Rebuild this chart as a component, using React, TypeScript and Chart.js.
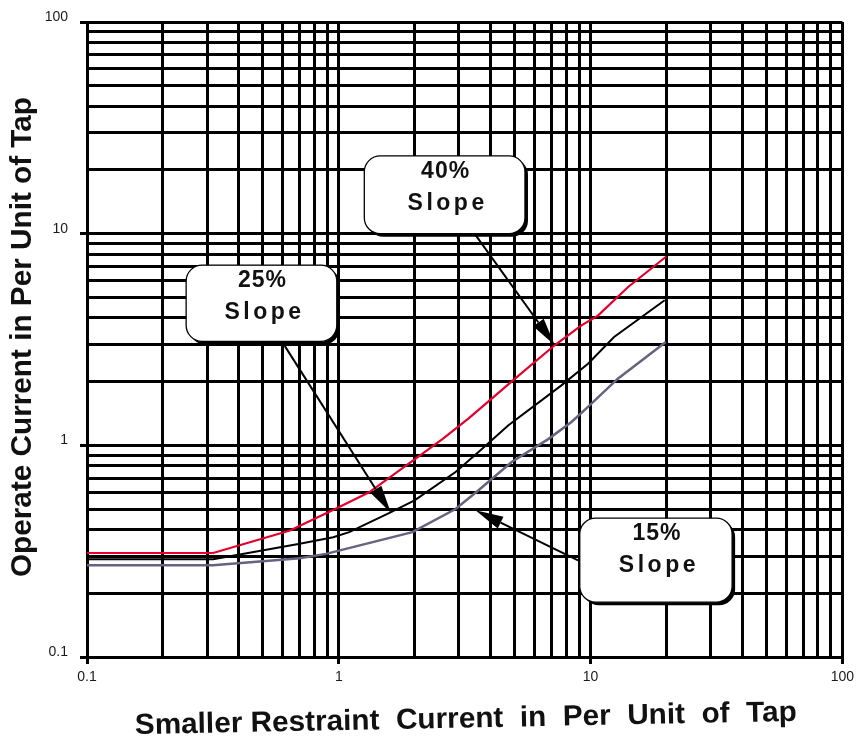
import React, { useEffect, useRef } from 'react';
import { Chart, registerables } from 'chart.js';

Chart.register(...registerables);

// ---- axis ticks ----
const X_MAJOR = [0.1, 1, 10, 100];
const X_TICK_LABELS = ['0.1', '1', '10', '100'];
const Y_MAJOR = [0.1, 1, 10, 100];
const Y_TICK_LABELS = ['0.1', '1', '10', '100'];
const MINOR_STEPS = [2, 3, 4, 5, 6, 7, 8, 9];

// ---- series (restraint current, operate current) ----
const SLOPE40_X = [0.1, 0.317, 0.64, 1.0, 1.32, 2.02, 2.58, 3.28, 5.0, 7.2, 9.2, 10.7, 14.1, 20];
const SLOPE40_Y = [0.31, 0.31, 0.396, 0.51, 0.6, 0.865, 1.07, 1.34, 2.06, 2.97, 3.69, 4.1, 5.6, 7.8];

const SLOPE25_X = [0.1, 0.317, 0.7, 0.95, 1.1, 1.59, 2.0, 2.91, 3.59, 4.72, 7.66, 9.77, 12.4, 19.7];
const SLOPE25_Y = [0.29, 0.29, 0.343, 0.368, 0.389, 0.48, 0.55, 0.748, 0.929, 1.244, 1.92, 2.43, 3.25, 4.85];

const SLOPE15_X = [0.1, 0.317, 0.7, 0.89, 1.96, 2.91, 3.59, 4.86, 6.79, 8.4, 9.77, 12.8, 19.9];
const SLOPE15_Y = [0.271, 0.271, 0.293, 0.307, 0.389, 0.5, 0.613, 0.834, 1.07, 1.29, 1.52, 2.06, 3.08];

const X_TITLE = 'Smaller Restraint  Current  in  Per  Unit  of  Tap';
const Y_TITLE = 'Operate Current in Per Unit of Tap';

// callouts: box corners (x1, y1, x2, y2) and arrow from/to in data units
const CALLOUT_LINES = [
  ['40%', 'Slope'],
  ['25%', 'Slope'],
  ['15%', 'Slope'],
];
const CALLOUT_BOXES = [
  [1.263, 23.3, 5.49, 10.0],
  [0.2476, 7.1, 0.982, 3.1],
  [9.06, 0.453, 36.5, 0.1816],
];
const ARROW_FROM = [
  [3.49, 9.87],
  [0.61, 2.95],
  [8.92, 0.286],
];
const ARROW_TO = [
  [7.21, 2.97],
  [1.61, 0.48],
  [3.49, 0.493],
];

const FONT = "'Liberation Sans', Arial, Helvetica, sans-serif";
const GRID_W = 3;

const toPoints = (xs: number[], ys: number[]) => xs.map((x, i) => ({ x, y: ys[i] }));

const buildTicks = (majors: number[]) => {
  const out: number[] = [];
  majors.forEach((m, i) => {
    out.push(m);
    if (i < majors.length - 1) MINOR_STEPS.forEach((s) => out.push(m * s));
  });
  return out;
};

const majorIndex = (majors: number[], v: number) =>
  majors.findIndex((m) => Math.abs(m - v) / m < 1e-6);

function roundRect(ctx: CanvasRenderingContext2D, x: number, y: number, w: number, h: number, r: number) {
  ctx.beginPath();
  ctx.moveTo(x + r, y);
  ctx.lineTo(x + w - r, y);
  ctx.arcTo(x + w, y, x + w, y + r, r);
  ctx.lineTo(x + w, y + h - r);
  ctx.arcTo(x + w, y + h, x + w - r, y + h, r);
  ctx.lineTo(x + r, y + h);
  ctx.arcTo(x, y + h, x, y + h - r, r);
  ctx.lineTo(x, y + r);
  ctx.arcTo(x, y, x + r, y, r);
  ctx.closePath();
}

function drawArrow(ctx: CanvasRenderingContext2D, x1: number, y1: number, x2: number, y2: number) {
  const ang = Math.atan2(y2 - y1, x2 - x1);
  const L = 28;
  const W = 6.5;
  const bx = x2 - L * Math.cos(ang);
  const by = y2 - L * Math.sin(ang);
  ctx.save();
  ctx.strokeStyle = '#000';
  ctx.fillStyle = '#000';
  ctx.lineWidth = 2;
  ctx.beginPath();
  ctx.moveTo(x1, y1);
  ctx.lineTo(bx, by);
  ctx.stroke();
  ctx.beginPath();
  ctx.moveTo(x2, y2);
  ctx.lineTo(bx - W * Math.sin(ang), by + W * Math.cos(ang));
  ctx.lineTo(bx + W * Math.sin(ang), by - W * Math.cos(ang));
  ctx.closePath();
  ctx.fill();
  ctx.restore();
}

function fitText(
  ctx: CanvasRenderingContext2D,
  text: string,
  cx: number,
  cy: number,
  width: number,
  angle: number,
  font: string
) {
  ctx.save();
  ctx.font = font;
  const w = ctx.measureText(text).width;
  ctx.translate(cx, cy);
  ctx.rotate(angle);
  ctx.scale(width / w, 1);
  ctx.textAlign = 'center';
  ctx.textBaseline = 'alphabetic';
  ctx.fillStyle = '#111';
  ctx.fillText(text, 0, 0);
  ctx.restore();
}

const overlayPlugin = {
  id: 'overlay',
  beforeDraw(chart: any) {
    const ctx = chart.ctx as CanvasRenderingContext2D;
    ctx.save();
    ctx.fillStyle = '#fff';
    ctx.fillRect(0, 0, chart.width, chart.height);
    ctx.restore();
  },
  afterDraw(chart: any) {
    const ctx = chart.ctx as CanvasRenderingContext2D;
    const xs = chart.scales.x;
    const ys = chart.scales.y;
    const px = (v: number) => xs.getPixelForValue(v);
    const py = (v: number) => ys.getPixelForValue(v);

    // arrows
    ARROW_FROM.forEach((f, i) => {
      const t = ARROW_TO[i];
      drawArrow(ctx, px(f[0]), py(f[1]), px(t[0]), py(t[1]));
    });

    // boxes
    CALLOUT_BOXES.forEach((b, i) => {
      const x1 = px(b[0]);
      const y1 = py(b[1]);
      const x2 = px(b[2]);
      const y2 = py(b[3]);
      const w = x2 - x1;
      const h = y2 - y1;
      ctx.save();
      ctx.fillStyle = '#000';
      roundRect(ctx, x1 + 3, y1 + 3, w, h, 16);
      ctx.fill();
      ctx.fillStyle = '#fff';
      roundRect(ctx, x1, y1, w, h, 16);
      ctx.fill();
      ctx.strokeStyle = '#000';
      ctx.lineWidth = 1.3;
      ctx.stroke();
      ctx.fillStyle = '#111';
      ctx.textAlign = 'center';
      ctx.textBaseline = 'middle';
      ctx.font = `bold 23px ${FONT}`;
      const cx = x1 + w / 2;
      const lines = CALLOUT_LINES[i];
      (ctx as any).letterSpacing = '1px';
      ctx.fillText(lines[0], cx + 1, y1 + 16);
      (ctx as any).letterSpacing = '3.5px';
      ctx.fillText(lines[1], cx + 3, y1 + 48);
      (ctx as any).letterSpacing = '0px';
      ctx.restore();
    });

    // axis titles
    fitText(ctx, X_TITLE, 466, 727.5, 662, -0.02, `bold 29px ${FONT}`);
    fitText(ctx, Y_TITLE, 31, 337, 480, -Math.PI / 2, `bold 29px ${FONT}`);
  },
};

const tickColor = (majors: number[]) => (c: any) =>
  c.tick && majorIndex(majors, c.tick.value) >= 0 ? '#000' : 'rgba(0,0,0,0)';

export default function App() {
  const ref = useRef<HTMLCanvasElement | null>(null);

  useEffect(() => {
    if (!ref.current) return;
    const xTicks = buildTicks(X_MAJOR);
    const yTicks = buildTicks(Y_MAJOR);
    const chart = new Chart(ref.current, {
      type: 'line',
      data: {
        datasets: [
          {
            label: '15% Slope',
            data: toPoints(SLOPE15_X, SLOPE15_Y),
            borderColor: '#67627f',
            borderWidth: 2.5,
            pointRadius: 0,
            tension: 0,
            fill: false,
          },
          {
            label: '25% Slope',
            data: toPoints(SLOPE25_X, SLOPE25_Y),
            borderColor: '#000000',
            borderWidth: 2,
            pointRadius: 0,
            tension: 0,
            fill: false,
          },
          {
            label: '40% Slope',
            data: toPoints(SLOPE40_X, SLOPE40_Y),
            borderColor: '#e4002b',
            borderWidth: 2.2,
            pointRadius: 0,
            tension: 0,
            fill: false,
          },
        ],
      },
      options: {
        animation: false,
        responsive: false,
        devicePixelRatio: 1,
        layout: { padding: { top: 22, right: 12, left: 0, bottom: 0 } },
        plugins: {
          legend: { display: false },
          tooltip: { enabled: false },
          title: { display: false },
        },
        scales: {
          x: {
            type: 'logarithmic',
            min: 0.1,
            max: 100,
            afterBuildTicks: (s: any) => {
              s.ticks = xTicks.map((v) => ({ value: v }));
            },
            afterFit: (s: any) => {
              s.height = 83;
            },
            border: { display: true, color: '#000', width: GRID_W },
            grid: {
              color: '#000',
              lineWidth: GRID_W,
              drawTicks: true,
              tickLength: 7,
              tickWidth: GRID_W,
              tickColor: tickColor(X_MAJOR),
            },
            ticks: {
              autoSkip: false,
              maxRotation: 0,
              minRotation: 0,
              padding: 5,
              color: '#1a1a1a',
              font: { family: FONT, size: 14 },
              callback: (v: any) => {
                const i = majorIndex(X_MAJOR, Number(v));
                return i >= 0 ? X_TICK_LABELS[i] : '';
              },
            },
          },
          y: {
            type: 'logarithmic',
            min: 0.1,
            max: 100,
            afterBuildTicks: (s: any) => {
              s.ticks = yTicks.map((v) => ({ value: v }));
            },
            afterFit: (s: any) => {
              s.width = 87;
            },
            border: { display: true, color: '#000', width: GRID_W },
            grid: {
              color: '#000',
              lineWidth: GRID_W,
              drawTicks: true,
              tickLength: 7,
              tickWidth: GRID_W,
              tickColor: tickColor(Y_MAJOR),
            },
            ticks: {
              autoSkip: false,
              padding: 12,
              labelOffset: -5,
              color: '#1a1a1a',
              font: { family: FONT, size: 14 },
              callback: (v: any) => {
                const i = majorIndex(Y_MAJOR, Number(v));
                return i >= 0 ? Y_TICK_LABELS[i] : '';
              },
            },
          },
        },
      },
      plugins: [overlayPlugin],
    } as any);
    return () => chart.destroy();
  }, []);

  return (
    <div style={{ position: 'absolute', left: 0, top: 0, width: 859, height: 740, background: '#fff' }}>
      <canvas ref={ref} width={859} height={740} style={{ width: 859, height: 740, display: 'block' }} />
    </div>
  );
}
